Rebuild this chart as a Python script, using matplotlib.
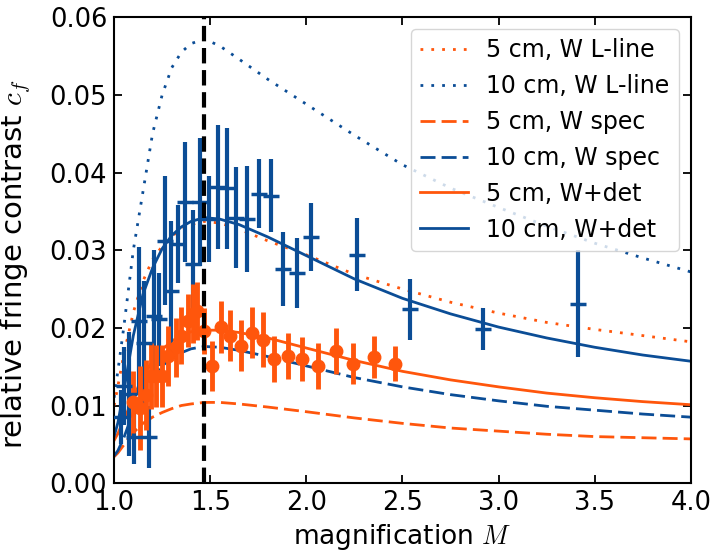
import matplotlib
matplotlib.use("Agg")
import matplotlib.pyplot as plt
import matplotlib.ticker as mticker

plt.rcParams['mathtext.fontset'] = 'cm'
plt.rcParams['font.family'] = ['DejaVu Sans']

ORANGE = '#ff560c'
BLUE = '#0b4d96'

# ---- model curves ----
M_curve = [1.0, 1.02, 1.05, 1.1, 1.15, 1.2, 1.25, 1.3, 1.35, 1.4, 1.47, 1.55,
           1.65, 1.8, 2.0, 2.25, 2.5, 2.75, 3.0, 3.25, 3.5, 3.75, 4.0]
lline_5 = [0.010, 0.0125, 0.0165, 0.022, 0.026, 0.0288, 0.0305, 0.0318, 0.0327, 0.0333,
           0.0337, 0.0335, 0.0327, 0.0312, 0.0294, 0.0269, 0.025, 0.0233, 0.0219, 0.0207,
           0.0198, 0.019, 0.0182]
lline_10 = [0.011, 0.0145, 0.020, 0.030, 0.0375, 0.045, 0.050, 0.0535, 0.0555, 0.0566,
            0.0572, 0.0563, 0.0546, 0.052, 0.0488, 0.0448, 0.0410, 0.0380, 0.0355, 0.0331,
            0.0309, 0.029, 0.0272]
spec_5 = [0.0034, 0.0039, 0.0049, 0.0065, 0.0077, 0.0085, 0.0091, 0.0096, 0.0100, 0.0102,
          0.0104, 0.0104, 0.0102, 0.0098, 0.0092, 0.0084, 0.0077, 0.0071, 0.0067, 0.0063,
          0.0060, 0.00585, 0.0057]
spec_10 = [0.0035, 0.0042, 0.0058, 0.0092, 0.0119, 0.0138, 0.0151, 0.0161, 0.0168, 0.0173,
           0.0176, 0.0175, 0.0171, 0.0163, 0.0151, 0.0136, 0.0124, 0.0114, 0.0106, 0.0099,
           0.0094, 0.0089, 0.0085]
det_5 = [0.0055, 0.0064, 0.0081, 0.011, 0.0138, 0.0157, 0.0172, 0.0183, 0.019, 0.0195,
         0.0197, 0.0197, 0.0194, 0.0187, 0.0174, 0.0158, 0.0144, 0.0133, 0.0124, 0.0116,
         0.0110, 0.0105, 0.0101]
det_10 = [0.006, 0.0078, 0.0118, 0.019, 0.0243, 0.0277, 0.0302, 0.0319, 0.033, 0.0337,
          0.0342, 0.034, 0.0333, 0.0317, 0.0293, 0.0263, 0.0238, 0.0218, 0.0201, 0.0187,
          0.0175, 0.0165, 0.0157]

# ---- measured data ----
M_meas_10 = [1.035, 1.054, 1.08, 1.105, 1.131, 1.157, 1.183, 1.209, 1.235, 1.265, 1.296,
             1.334, 1.37, 1.408, 1.448, 1.495, 1.538, 1.586, 1.633, 1.69, 1.754, 1.815,
             1.88, 1.953, 2.026, 2.265, 2.54, 2.918, 3.415]
c_meas_10 = [0.0085, 0.0125, 0.0115, 0.006, 0.0209, 0.018, 0.006, 0.0215, 0.0211, 0.0312,
             0.0248, 0.0308, 0.0362, 0.0282, 0.0362, 0.034, 0.0381, 0.0380, 0.0342, 0.0340,
             0.0373, 0.0370, 0.0276, 0.0271, 0.0317, 0.0294, 0.0224, 0.0198, 0.0231]
e_meas_10 = [0.0035, 0.005, 0.008, 0.0035, 0.0095, 0.008, 0.004, 0.0085, 0.006, 0.0083,
             0.009, 0.005, 0.0077, 0.007, 0.0082, 0.0055, 0.008, 0.0078, 0.0065, 0.0068,
             0.0045, 0.0047, 0.0048, 0.0045, 0.0044, 0.0047, 0.0039, 0.0027, 0.0069]

M_meas_5 = [1.097, 1.137, 1.166, 1.19, 1.218, 1.249, 1.282, 1.322, 1.348, 1.387, 1.408,
            1.431, 1.469, 1.509, 1.555, 1.604, 1.659, 1.716, 1.772, 1.832, 1.906, 1.979,
            2.062, 2.152, 2.244, 2.351, 2.463]
c_meas_5 = [0.0104, 0.0097, 0.0114, 0.0138, 0.0138, 0.0138, 0.0164, 0.0175, 0.019, 0.0209,
            0.0218, 0.0222, 0.0196, 0.0151, 0.0201, 0.019, 0.0177, 0.0194, 0.0185, 0.016,
            0.0164, 0.016, 0.0151, 0.017, 0.0154, 0.0163, 0.0154]
e_meas_5 = [0.004, 0.0054, 0.0045, 0.0042, 0.004, 0.004, 0.0039, 0.0038, 0.0037, 0.0034,
            0.0038, 0.0037, 0.003, 0.0032, 0.0034, 0.0033, 0.0033, 0.0033, 0.0036, 0.003,
            0.003, 0.0028, 0.003, 0.003, 0.0026, 0.0027, 0.0022]

M_opt = 1.47

fig = plt.figure(figsize=(7.13, 5.56), dpi=100)
ax = fig.add_axes([0.160, 0.131, 0.809, 0.838])

lw = 2.0
dot = (0, (1.0, 2.9))
dash = (0, (5.4, 2.2))
ax.plot(M_curve, lline_5, ls=dot, color=ORANGE, lw=lw, label='5 cm, W L-line')
ax.plot(M_curve, lline_10, ls=dot, color=BLUE, lw=lw, label='10 cm, W L-line')
ax.plot(M_curve, spec_5, ls=dash, color=ORANGE, lw=lw, label='5 cm, W spec')
ax.plot(M_curve, spec_10, ls=dash, color=BLUE, lw=lw, label='10 cm, W spec')
ax.plot(M_curve, det_5, '-', color=ORANGE, lw=lw, label='5 cm, W+det')
ax.plot(M_curve, det_10, '-', color=BLUE, lw=lw, label='10 cm, W+det')

ax.errorbar(M_meas_10, c_meas_10, yerr=e_meas_10, fmt='_', color=BLUE,
            ms=11, mew=2.5, elinewidth=3.0, capsize=0, zorder=3)
ax.errorbar(M_meas_5, c_meas_5, yerr=e_meas_5, fmt='o', color=ORANGE,
            ms=9, elinewidth=3.5, capsize=0, zorder=3)

ax.axvline(M_opt, color='black', ls='--', lw=3, zorder=4)

ax.set_xlim(1.0, 4.0)
ax.set_ylim(0.0, 0.06)
ax.set_xticks([1.0, 1.5, 2.0, 2.5, 3.0, 3.5, 4.0])
ax.set_yticks([0.0, 0.01, 0.02, 0.03, 0.04, 0.05, 0.06])
ax.yaxis.set_major_formatter(mticker.FormatStrFormatter('%.2f'))
ax.xaxis.set_major_formatter(mticker.FormatStrFormatter('%.1f'))
ax.tick_params(direction='in', top=True, right=True, length=6, width=1.3,
               labelsize=18.5, pad=5)
for s in ax.spines.values():
    s.set_linewidth(1.5)

ax.set_xlabel('magnification $M$', fontsize=19)
ax.set_ylabel('relative fringe contrast $c_f$', fontsize=21)
ax.yaxis.set_label_coords(-0.14, 0.47)

ax.legend(loc='upper right', fontsize=17, framealpha=0.8, handlelength=2.0)

fig.savefig('out.png', dpi=100)
